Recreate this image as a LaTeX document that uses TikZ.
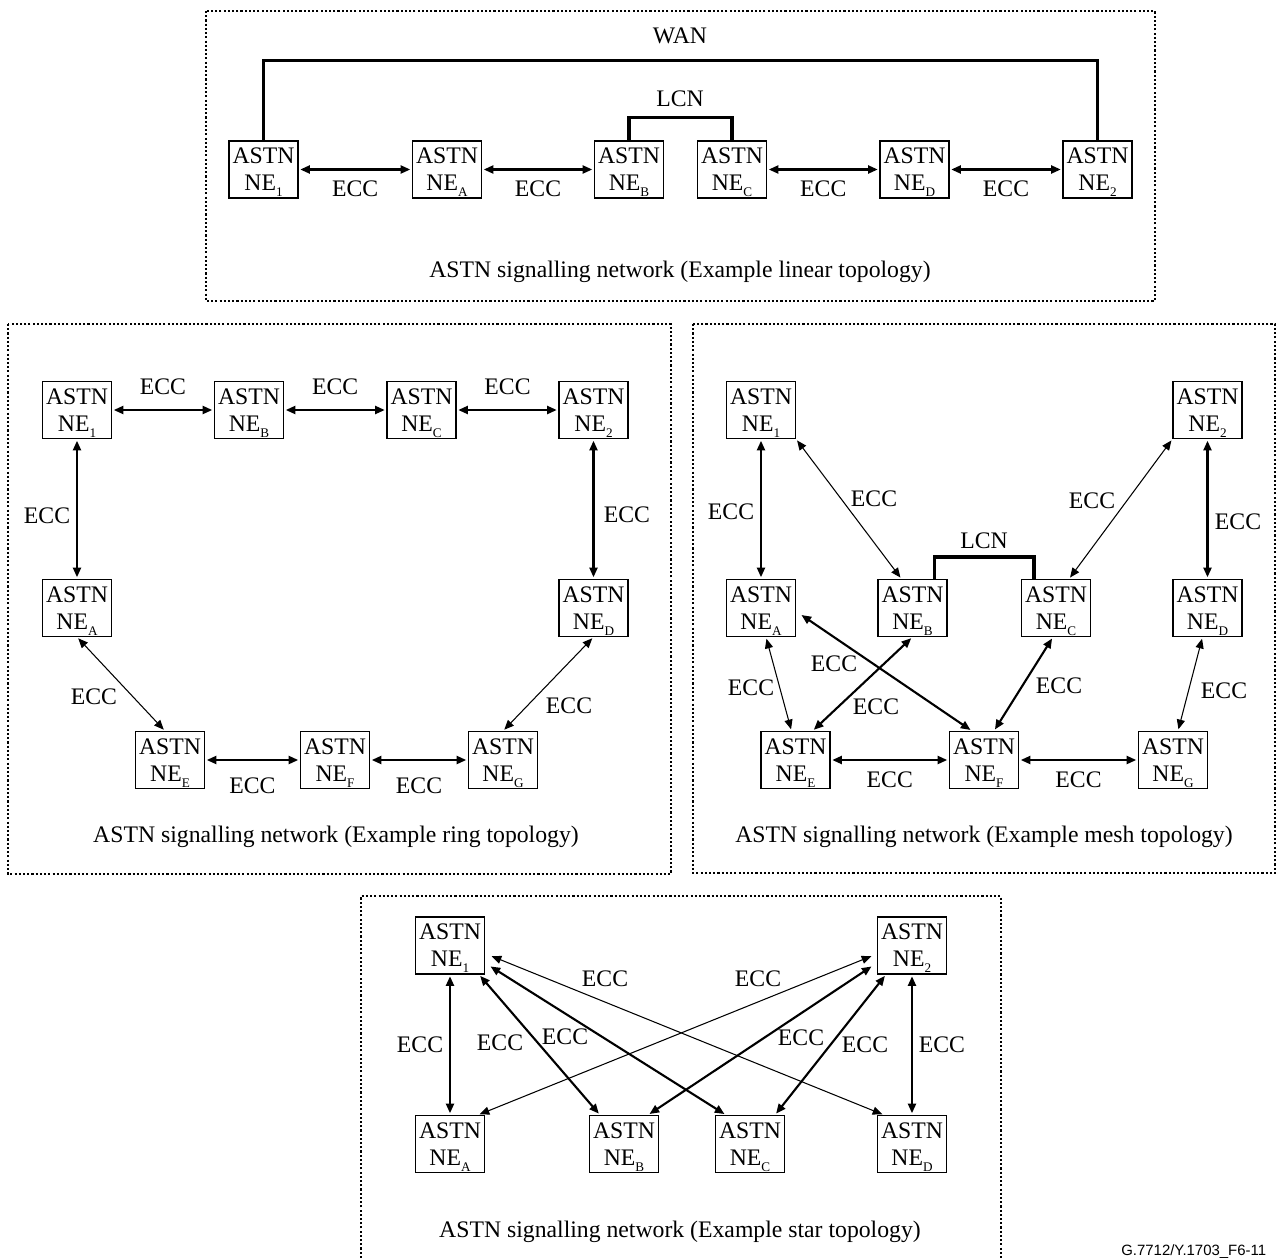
\documentclass[tikz,border=0pt]{standalone}
\usepackage{fontspec}
\setmainfont{Liberation Serif}
\newfontfamily\tagfont{Liberation Sans}
\usetikzlibrary{arrows.meta, calc}

\newcommand{\diafont}{\fontsize{13.5}{15.5}\selectfont}
\newcommand{\astn}[1]{ASTN\\NE\raisebox{-3.4pt}[0pt][0pt]{\fontsize{7.5}{7.5}\selectfont #1}}

\begin{document}
\begin{tikzpicture}[x=0.02cm, y=-0.02cm,
    ne/.style={draw, line width=0.6pt, minimum width=1.38cm, minimum height=1.14cm,
               inner sep=1pt, align=center, font=\diafont},
    ecc/.style={{Triangle[length=5.5pt,width=4.6pt]}-{Triangle[length=5.5pt,width=4.6pt]},
                line width=1.2pt, shorten <=1pt, shorten >=1pt},
    eccthin/.style={ecc, line width=0.6pt},
    link/.style={line width=2.2pt},
    lbl/.style={font=\diafont},
    panel/.style={line width=0.7pt, dash pattern=on 1.2pt off 1.2pt}
  ]
  \useasboundingbox (0,0) rectangle (1276,1258);

  % linear topology
  \draw[panel] (206,11) rectangle (1155,301);
  \node[ne] (l1) at (263.5,169.5) {\astn{1}};
  \node[ne] (lA) at (447,169.5)   {\astn{A}};
  \node[ne] (lB) at (629,169.5)   {\astn{B}};
  \node[ne] (lC) at (732,169.5)   {\astn{C}};
  \node[ne] (lD) at (914.5,169.5) {\astn{D}};
  \node[ne] (l2) at (1097.5,169.5) {\astn{2}};
  \draw[link] (l1.north) -- ++(0,-80) -| (l2.north);
  \node[lbl] (wan) at (680,36) {WAN};
  \draw[link] (lB.north) -- ++(0,-23) -| (lC.north);
  \node[lbl] (lcn) at (680,99) {LCN};
  \draw[ecc] (l1) -- node[lbl, below=2.5pt]{ECC} (lA);
  \draw[ecc] (lA) -- node[lbl, below=2.5pt]{ECC} (lB);
  \draw[ecc] (lC) -- node[lbl, below=2.5pt]{ECC} (lD);
  \draw[ecc] (lD) -- node[lbl, below=2.5pt]{ECC} (l2);
  \node[lbl] (lcap) at (680,272) {ASTN signalling network (Example linear topology)};

  % ring topology
  \draw[panel] (8,324) rectangle (671,874);
  \node[ne] (r1) at (77,410)    {\astn{1}};
  \node[ne] (rB) at (249,410)   {\astn{B}};
  \node[ne] (rC) at (421.5,410) {\astn{C}};
  \node[ne] (r2) at (593.5,410) {\astn{2}};
  \node[ne] (rA) at (77,608)    {\astn{A}};
  \node[ne] (rD) at (593.5,608) {\astn{D}};
  \node[ne] (rE) at (170,760)   {\astn{E}};
  \node[ne] (rF) at (335,760)   {\astn{F}};
  \node[ne] (rG) at (503,760)   {\astn{G}};
  \draw[ecc] (r1) -- node[lbl, above=5pt]{ECC} (rB);
  \draw[ecc] (rB) -- node[lbl, above=5pt]{ECC} (rC);
  \draw[ecc] (rC) -- node[lbl, above=5pt]{ECC} (r2);
  \draw[ecc] (r1) -- node[lbl, left=0pt, yshift=-4pt]{ECC} (rA);
  \draw[ecc] (r2) -- node[lbl, right=2pt, yshift=-3pt]{ECC} (rD);
  \draw[eccthin] (rA.south) -- ($(rE.north)+(-5,0)$);
  \node[lbl] (rlae) at (94,697) {ECC};
  \draw[eccthin] (rD.south) -- (rG.north);
  \node[lbl] (rldg) at (569,706) {ECC};
  \draw[ecc] (rE) -- node[lbl, below=6pt]{ECC} (rF);
  \draw[ecc] (rF) -- node[lbl, below=6pt]{ECC} (rG);
  \node[lbl] (rcap) at (336,837) {ASTN signalling network (Example ring topology)};

  % mesh topology
  \draw[panel] (693,324) rectangle (1275,873);
  \node[ne] (m1) at (761,410)    {\astn{1}};
  \node[ne] (m2) at (1207.5,410) {\astn{2}};
  \node[ne] (mA) at (761,608)    {\astn{A}};
  \node[ne] (mB) at (912.5,608)  {\astn{B}};
  \node[ne] (mC) at (1056,608)   {\astn{C}};
  \node[ne] (mD) at (1207.5,608) {\astn{D}};
  \node[ne] (mE) at (795.5,760)  {\astn{E}};
  \node[ne] (mF) at (984,760)    {\astn{F}};
  \node[ne] (mG) at (1173,760)   {\astn{G}};
  \draw[link] ($(mB.north)+(22,0)$) -- ++(0,-22) -| ($(mC.north)+(-22,0)$);
  \node[lbl] (mlcn) at (984,541) {LCN};
  \draw[ecc] (m1) -- (mA);
  \node[lbl] (ml1a) at (731,512) {ECC};
  \draw[eccthin] (m1.south east) -- ($(mB.north)+(-11,0)$);
  \node[lbl] (ml1b) at (874,499) {ECC};
  \draw[eccthin] (m2.south west) -- ($(mC.north)+(13,0)$);
  \node[lbl] (ml2c) at (1092,501) {ECC};
  \draw[ecc] (m2) -- (mD);
  \node[lbl] (ml2d) at (1238,522) {ECC};
  \draw[eccthin] ($(mA.south)+(5,0)$) -- ($(mE.north)+(-4,0)$);
  \node[lbl] (mlae) at (751,688) {ECC};
  \draw[ecc] (mB.south) -- ($(mE.north)+(17,0)$);
  \node[lbl] (mlbe) at (876,707) {ECC};
  \draw[ecc] ($(mA.east)+(4,6)$) -- ($(mF.north)+(-12,0)$);
  \node[lbl] (mlaf) at (834,664) {ECC};
  \draw[ecc] ($(mC.south)+(-3,0)$) -- ($(mF.north)+(10,0)$);
  \node[lbl] (mlcf) at (1059,686) {ECC};
  \draw[eccthin] ($(mD.south)+(-5,0)$) -- ($(mG.north)+(5,0)$);
  \node[lbl] (mldg) at (1224,691) {ECC};
  \draw[ecc] (mE) -- node[lbl, below=3pt]{ECC} (mF);
  \draw[ecc] (mF) -- node[lbl, below=3pt]{ECC} (mG);
  \node[lbl] (mcap) at (984,837) {ASTN signalling network (Example mesh topology)};

  % star topology
  \draw[panel] (361,1258) -- (361,896) -- (1001,896) -- (1001,1258);
  \node[ne] (s1) at (450,945.5)  {\astn{1}};
  \node[ne] (s2) at (912,945.5)  {\astn{2}};
  \node[ne] (sA) at (450,1144)   {\astn{A}};
  \node[ne] (sB) at (624,1144)   {\astn{B}};
  \node[ne] (sC) at (750,1144)   {\astn{C}};
  \node[ne] (sD) at (912,1144)   {\astn{D}};
  \draw[ecc] (s1) -- node[lbl, left=0pt]{ECC} (sA);
  \draw[ecc] (s2) -- node[lbl, right=0pt]{ECC} (sD);
  \draw[ecc] ($(s1.south east)+(-6,0)$) -- ($(sB.north west)+(11,0)$);
  \node[lbl] (sl1b) at (500,1043) {ECC};
  \draw[ecc] ($(s1.east)+(4,20)$) -- ($(sC.north west)+(11,0)$);
  \node[lbl] (sl1c) at (565,1037) {ECC};
  \draw[eccthin] ($(s1.east)+(5,10)$) -- ($(sD.north west)+(7,0)$);
  \node[lbl] (sl1d) at (605,979) {ECC};
  \draw[eccthin] ($(s2.west)+(-4,10)$) -- ($(sA.north east)+(-7,0)$);
  \node[lbl] (sl2a) at (758,979) {ECC};
  \draw[ecc] ($(s2.west)+(-4,20)$) -- ($(sB.north east)+(-11,0)$);
  \node[lbl] (sl2b) at (801,1038) {ECC};
  \draw[ecc] ($(s2.south west)+(9,0)$) -- ($(sC.north east)+(-10,0)$);
  \node[lbl] (sl2c) at (865,1045) {ECC};
  \node[lbl] (scap) at (680,1232) {ASTN signalling network (Example star topology)};

  \node[font=\tagfont\fontsize{8.5}{9}\selectfont, anchor=base west, inner sep=0pt]
    (tag) at (1121,1255) {G.7712/Y.1703\_F6-11};
\end{tikzpicture}
\end{document}
